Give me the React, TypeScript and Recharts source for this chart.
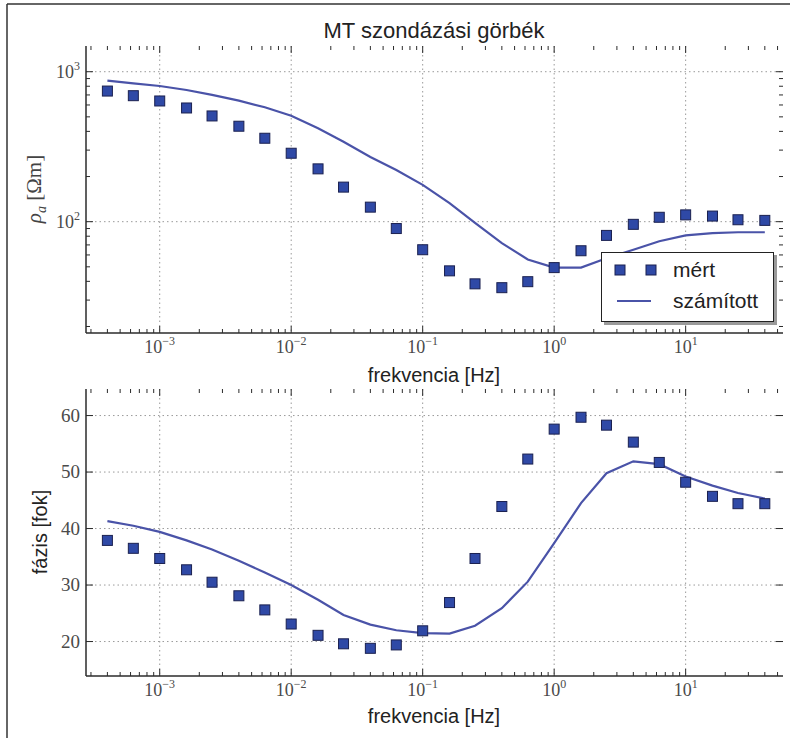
import React from 'react';
import { ComposedChart, Line, Scatter, XAxis, YAxis, CartesianGrid } from 'recharts';

// frequencies [Hz], 5 per decade
const freq = [
  0.0004, 0.00063, 0.001, 0.0016, 0.0025, 0.004, 0.0063, 0.01, 0.016, 0.025, 0.04, 0.063, 0.1,
  0.16, 0.25, 0.4, 0.63, 1, 1.6, 2.5, 4, 6.3, 10, 16, 25, 40,
];
// apparent resistivity [Ohm m]
const rhoMeas = [743, 692, 638, 573, 507, 433, 360, 286, 225, 170, 125, 90, 65, 47, 38.5, 36.3, 39.8, 49.4, 64, 81, 96, 107, 111, 109, 103, 102];
const rhoCalc = [871, 836, 803, 755, 700, 641, 579, 508, 420, 341, 270, 221, 176, 133, 98, 72, 56, 49.4, 49.4, 57, 65, 74, 81, 84, 85, 85];
// phase [deg]
const phaseMeas = [37.9, 36.5, 34.7, 32.7, 30.5, 28.1, 25.6, 23.1, 21.1, 19.6, 18.8, 19.4, 21.9, 26.9, 34.7, 43.9, 52.3, 57.6, 59.7, 58.3, 55.3, 51.7, 48.2, 45.7, 44.4, 44.4];
const phaseCalc = [41.3, 40.5, 39.4, 37.9, 36.3, 34.3, 32.2, 30.0, 27.4, 24.7, 23.0, 22.0, 21.5, 21.4, 22.8, 25.9, 30.6, 37.4, 44.5, 49.8, 51.9, 51.4, 49.2, 47.6, 46.3, 45.3];

const xMajor = [0.001, 0.01, 0.1, 1, 10];
const xMinor = [
  0.0003, 0.0004, 0.0005, 0.0006, 0.0007, 0.0008, 0.0009,
  0.002, 0.003, 0.004, 0.005, 0.006, 0.007, 0.008, 0.009,
  0.02, 0.03, 0.04, 0.05, 0.06, 0.07, 0.08, 0.09,
  0.2, 0.3, 0.4, 0.5, 0.6, 0.7, 0.8, 0.9,
  2, 3, 4, 5, 6, 7, 8, 9,
  20, 30, 40, 50,
];
const rhoMajor = [100, 1000];
const rhoMinor = [20, 30, 40, 50, 60, 70, 80, 90, 200, 300, 400, 500, 600, 700, 800, 900];
const phaseTicks = [20, 30, 40, 50, 60];

const data = freq.map((f, i) => ({ f, rm: rhoMeas[i], rc: rhoCalc[i], pm: phaseMeas[i], pc: phaseCalc[i] }));

const X_DOMAIN = [0.000275, 55];
const RHO_DOMAIN = [18.1, 1484];
const PHASE_DOMAIN = [13.9, 64.7];

const LEFT = 86;
const RIGHT = 783;
const W = 790;
const TOP_H = 370;
const BOT_H = 368;
const TOP_BOX = { top: 46, bottom: 333 };
const BOT_BOX = { top: 19, bottom: 306 };

const AX = '#2b2b2b';
const MARKER_FILL = '#2f49a6';
const MARKER_EDGE = '#1b2150';
const LINE_COL = '#4a53a8';
const TICK_COL = '#4a4a4a';
const SANS = '"Liberation Sans", Arial, sans-serif';
const SERIF = '"Liberation Serif", "DejaVu Serif", serif';

const isDecade = (v: number) => Math.abs(Math.log10(v) - Math.round(Math.log10(v))) < 1e-6;
const expStr = (v: number) => {
  const e = Math.round(Math.log10(v));
  return e < 0 ? '\u2212' + Math.abs(e) : String(e);
};

const makeXTick = (box: { top: number; bottom: number }) => (props: any) => {
  const { x, payload } = props;
  const v = payload.value;
  const major = xMajor.includes(v);
  const len = major ? 7 : 4;
  return (
    <g>
      <line x1={x} x2={x} y1={box.bottom} y2={box.bottom - len} stroke={AX} strokeWidth={1} />
      <line x1={x} x2={x} y1={box.top} y2={box.top + len} stroke={AX} strokeWidth={1} />
      {major && (
        <text x={x} y={box.bottom + 20} textAnchor="middle" fontFamily={SERIF} fontSize={18} fill={TICK_COL}>
          10
          <tspan dy={-8} fontSize={12}>{expStr(v)}</tspan>
        </text>
      )}
    </g>
  );
};

const RhoTick = (props: any) => {
  const { y, payload } = props;
  const v = payload.value;
  const major = isDecade(v);
  const len = major ? 7 : 4;
  return (
    <g>
      <line x1={LEFT} x2={LEFT + len} y1={y} y2={y} stroke={AX} strokeWidth={1} />
      <line x1={RIGHT} x2={RIGHT - len} y1={y} y2={y} stroke={AX} strokeWidth={1} />
      {major && (
        <text x={LEFT - 6} y={y + 6} textAnchor="end" fontFamily={SERIF} fontSize={18} fill={TICK_COL}>
          10
          <tspan dy={-8} fontSize={12}>{expStr(v)}</tspan>
        </text>
      )}
    </g>
  );
};

const PhaseTick = (props: any) => {
  const { y, payload } = props;
  return (
    <g>
      <line x1={LEFT} x2={LEFT + 7} y1={y} y2={y} stroke={AX} strokeWidth={1} />
      <line x1={RIGHT} x2={RIGHT - 7} y1={y} y2={y} stroke={AX} strokeWidth={1} />
      <text x={LEFT - 6} y={y + 6} textAnchor="end" fontFamily={SERIF} fontSize={19} fill={TICK_COL}>
        {payload.value}
      </text>
    </g>
  );
};

const Square = (props: any) => {
  const { cx, cy } = props;
  if (cx == null || cy == null) return null;
  return <rect x={cx - 5} y={cy - 5} width={10} height={10} fill={MARKER_FILL} stroke={MARKER_EDGE} strokeWidth={1} />;
};

const Panel = ({ height, box, yKeyM, yKeyC, yScale, yDomain, yTicks, yGrid, YTick }: any) => (
  <ComposedChart
    width={W}
    height={height}
    data={data}
    margin={{ top: box.top, right: W - RIGHT, bottom: height - box.bottom - 30, left: 0 }}
  >
    <CartesianGrid
      stroke="#9a9a9a"
      strokeDasharray="1.5 3"
      verticalValues={xMajor}
      horizontalValues={yGrid}
    />
    <XAxis
      dataKey="f"
      type="number"
      scale="log"
      domain={X_DOMAIN}
      allowDataOverflow
      ticks={[...xMinor, ...xMajor]}
      interval={0}
      height={30}
      tickSize={0}
      tickLine={false}
      axisLine={{ stroke: AX, strokeWidth: 1.5 }}
      tick={makeXTick(box)}
    />
    <XAxis
      xAxisId="top"
      orientation="top"
      type="number"
      scale="log"
      domain={X_DOMAIN}
      allowDataOverflow
      height={0}
      tick={false}
      tickLine={false}
      axisLine={{ stroke: AX, strokeWidth: 1.5 }}
    />
    <YAxis
      type="number"
      scale={yScale}
      domain={yDomain}
      allowDataOverflow
      ticks={yTicks}
      interval={0}
      width={LEFT}
      tickSize={0}
      tickLine={false}
      axisLine={{ stroke: AX, strokeWidth: 1.5 }}
      tick={YTick}
    />
    <YAxis
      yAxisId="right"
      orientation="right"
      type="number"
      domain={[0, 1]}
      width={0}
      tick={false}
      tickLine={false}
      axisLine={{ stroke: AX, strokeWidth: 1.5 }}
    />
    <Line
      dataKey={yKeyC}
      type="linear"
      stroke={LINE_COL}
      strokeWidth={2.2}
      dot={false}
      activeDot={false}
      isAnimationActive={false}
    />
    <Scatter dataKey={yKeyM} shape={Square} isAnimationActive={false} />
  </ComposedChart>
);

export default function App() {
  return (
    <div style={{ position: 'absolute', left: 0, top: 0, width: W, height: 738, background: '#fff', overflow: 'hidden' }}>
      <div style={{ position: 'absolute', left: 0, top: 0 }}>
        <Panel
          height={TOP_H}
          box={TOP_BOX}
          yKeyM="rm"
          yKeyC="rc"
          yScale="log"
          yDomain={RHO_DOMAIN}
          yTicks={[...rhoMinor, ...rhoMajor]}
          yGrid={rhoMajor}
          YTick={RhoTick}
        />
      </div>
      <div style={{ position: 'absolute', left: 0, top: TOP_H }}>
        <Panel
          height={BOT_H}
          box={BOT_BOX}
          yKeyM="pm"
          yKeyC="pc"
          yScale="linear"
          yDomain={PHASE_DOMAIN}
          yTicks={phaseTicks}
          yGrid={phaseTicks}
          YTick={PhaseTick}
        />
      </div>
      <svg width={W} height={738} style={{ position: 'absolute', left: 0, top: 0, pointerEvents: 'none' }}>
        <line x1={7} y1={4} x2={W} y2={4} stroke="#333" strokeWidth={1.5} />
        <line x1={7} y1={4} x2={7} y2={738} stroke="#333" strokeWidth={1.5} />
        <text x={434} y={38} textAnchor="middle" fontFamily={SANS} fontSize={22} fill="#222">
          MT szondázási görbék
        </text>
        <text x={434} y={382} textAnchor="middle" fontFamily={SANS} fontSize={20} fill="#222">
          frekvencia [Hz]
        </text>
        <text x={434} y={723} textAnchor="middle" fontFamily={SANS} fontSize={20} fill="#222">
          frekvencia [Hz]
        </text>
        <text x={0} y={0} transform="translate(41 189) rotate(-90)" textAnchor="middle" fontFamily={SERIF} fontSize={21} fill="#444">
          <tspan fontStyle="italic">ρ</tspan>
          <tspan fontStyle="italic" fontSize={14} dy={5}>a</tspan>
          <tspan dy={-5}> [Ωm]</tspan>
        </text>
        <text x={0} y={0} transform="translate(47 532) rotate(-90)" textAnchor="middle" fontFamily={SANS} fontSize={20} fill="#222">
          fázis [fok]
        </text>
      </svg>
      <div
        style={{
          position: 'absolute',
          left: 601,
          top: 252,
          width: 171,
          height: 68,
          border: '1.5px solid #222',
          background: '#fff',
          boxShadow: '3px 3px 0 #9a9a9a',
        }}
      >
        <svg width={171} height={68} style={{ position: 'absolute', left: 0, top: 0 }}>
          <rect x={13} y={12} width={10} height={10} fill={MARKER_FILL} stroke={MARKER_EDGE} strokeWidth={1} />
          <rect x={44} y={12} width={10} height={10} fill={MARKER_FILL} stroke={MARKER_EDGE} strokeWidth={1} />
          <line x1={15} x2={49} y1={48} y2={48} stroke={LINE_COL} strokeWidth={2.2} />
          <text x={71} y={24} fontFamily={SANS} fontSize={21} fill="#222">mért</text>
          <text x={71} y={55} fontFamily={SANS} fontSize={21} fill="#222">számított</text>
        </svg>
      </div>
    </div>
  );
}
